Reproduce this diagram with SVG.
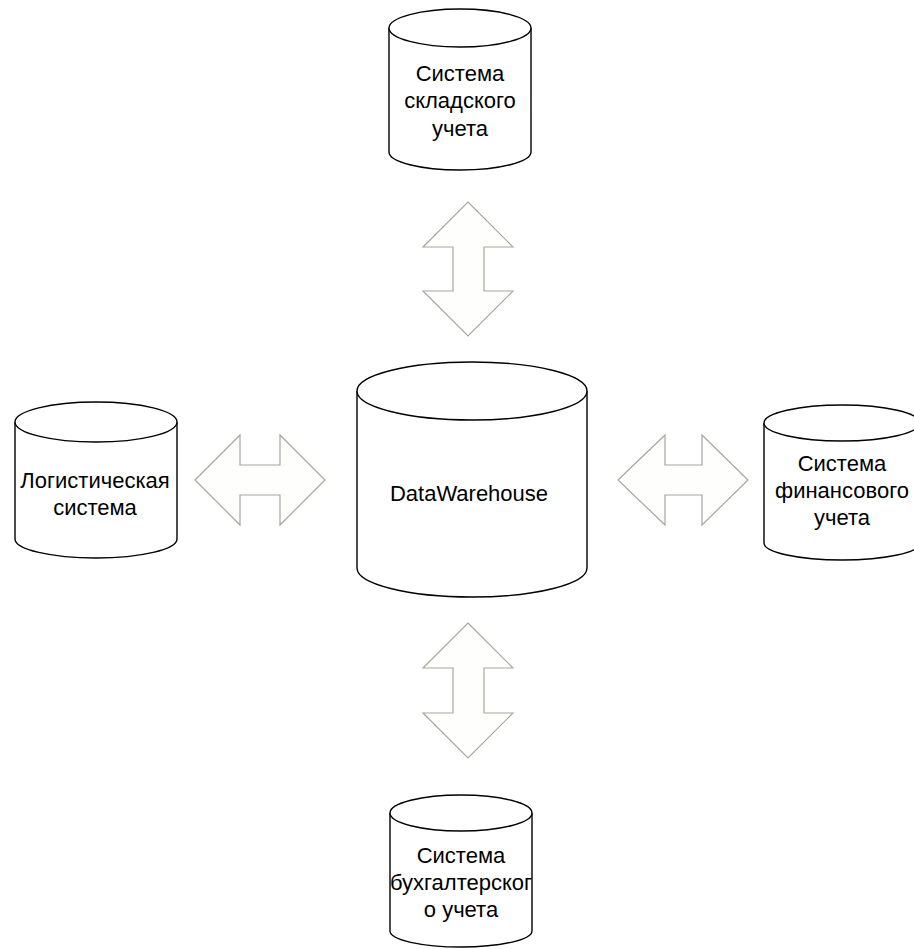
<svg xmlns="http://www.w3.org/2000/svg" width="914" height="949" viewBox="0 0 914 949">
<style>
.cyl{fill:#ffffff;stroke:#000000;stroke-width:1.4}
.arr{fill:#fefefc;stroke:#aaa69e;stroke-width:1.2;stroke-linejoin:miter}
.lbl{font-family:"Liberation Sans",Arial,sans-serif;font-size:22px;fill:#000000;text-anchor:middle}
</style>
<rect width="914" height="949" fill="#ffffff"/>
<g id="connectors">
<polygon class="arr" points="468,202 513,247 484,247 484,291 513,291 468,336 423,291 453,291 453,247 423,247"/>
<polygon class="arr" points="468,623 513,668 484,668 484,713 513,713 468,758 423,713 453,713 453,668 423,668"/>
<polygon class="arr" points="195,480 240,435 240,465 280,465 280,435 325,480 280,525 280,495 240,495 240,525"/>
<polygon class="arr" points="618,480 665,435 665,465 702,465 702,435 748,480 702,525 702,495 665,495 665,525"/>
</g>
<g id="node-top">
<path class="cyl" d="M389,28 A71,19 0 0 1 531,28 L531,152 A71,18 0 0 1 389,152 Z"/>
<path class="cyl" fill="none" d="M389,28 A71,19 0 0 0 531,28"/>
<text class="lbl" x="460" y="81">Система</text>
<text class="lbl" x="460" y="108">складского</text>
<text class="lbl" x="460" y="136">учета</text>
</g>
<g id="node-center">
<path class="cyl" d="M357,391 A115,29 0 0 1 587,391 L587,568 A115,29 0 0 1 357,568 Z"/>
<path class="cyl" fill="none" d="M357,391 A115,29 0 0 0 587,391"/>
<text class="lbl" x="469" y="501">DataWarehouse</text>
</g>
<g id="node-left">
<path class="cyl" d="M15,422 A81,20 0 0 1 177,422 L177,539 A81,19 0 0 1 15,539 Z"/>
<path class="cyl" fill="none" d="M15,422 A81,20 0 0 0 177,422"/>
<text class="lbl" x="95" y="488">Логистическая</text>
<text class="lbl" x="95" y="515">система</text>
</g>
<g id="node-right">
<path class="cyl" d="M764,423 A78,18 0 0 1 920,423 L920,543 A78,17 0 0 1 764,543 Z"/>
<path class="cyl" fill="none" d="M764,423 A78,18 0 0 0 920,423"/>
<text class="lbl" x="842" y="471">Система</text>
<text class="lbl" x="842" y="498">финансового</text>
<text class="lbl" x="842" y="525">учета</text>
</g>
<g id="node-bottom">
<path class="cyl" d="M390,813 A71,18 0 0 1 532,813 L532,931 A71,16 0 0 1 390,931 Z"/>
<path class="cyl" fill="none" d="M390,813 A71,18 0 0 0 532,813"/>
<text class="lbl" x="461" y="863">Система</text>
<text class="lbl" x="461" y="890">бухгалтерског</text>
<text class="lbl" x="461" y="917">о учета</text>
</g>
</svg>
